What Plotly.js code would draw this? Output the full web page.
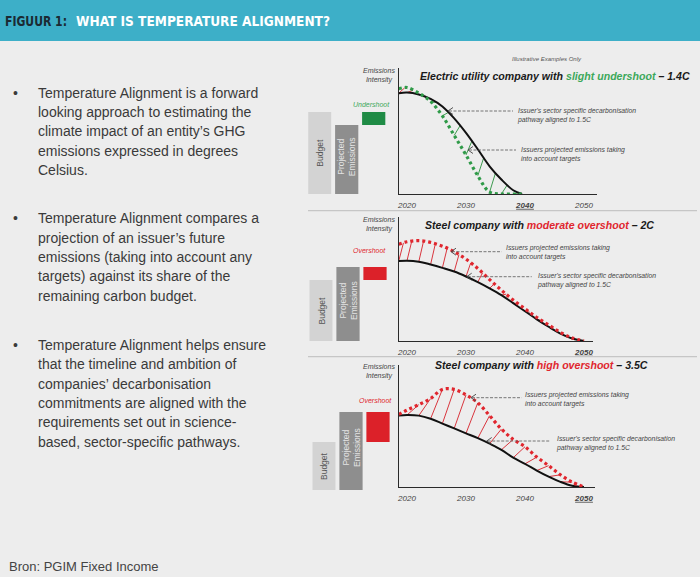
<!DOCTYPE html>
<html><head><meta charset="utf-8">
<script src="https://cdn.plot.ly/plotly-3.0.1.min.js"></script>
<style>html,body{margin:0;padding:0;background:#EDEDED}</style>
</head><body><div id="chart" style="width:700px;height:577px"></div>
<script>
// ---------------- DATA ----------------
const tickYears = [2020, 2030, 2040, 2050];
const tickText1 = ['2020', '2030', '<b><u>2040</u></b>', '2050'];
const tickText23 = ['2020', '2030', '2040', '<b><u>2050</u></b>'];

// Panel 1: Electric utility (slight undershoot)
const years1 = [2018.6, 2020, 2022, 2024, 2026, 2028, 2030, 2032, 2034, 2036, 2038, 2039.5];
const pathway1 = [0.80, 0.805, 0.79, 0.755, 0.695, 0.60, 0.485, 0.355, 0.22, 0.115, 0.03, 0];
const projected1 = [0.835, 0.845, 0.80, 0.735, 0.62, 0.465, 0.31, 0.145, 0.015, 0, 0, 0];

// Panel 2: Steel (moderate overshoot)
const years2 = [2018.6, 2020, 2022, 2024, 2026, 2028, 2030, 2032, 2034, 2036, 2038, 2040, 2042, 2044, 2046, 2048, 2050];
const pathway2 = [0.645, 0.648, 0.64, 0.617, 0.59, 0.56, 0.52, 0.475, 0.425, 0.37, 0.305, 0.24, 0.175, 0.115, 0.06, 0.02, 0];
const projected2 = [0.78, 0.80, 0.81, 0.795, 0.765, 0.72, 0.66, 0.585, 0.495, 0.41, 0.33, 0.26, 0.19, 0.13, 0.07, 0.025, 0];

// Panel 3: Steel (high overshoot)
const years3 = [2018.6, 2020, 2022, 2024, 2026, 2028, 2030, 2032, 2034, 2036, 2038, 2040, 2042, 2044, 2046, 2048, 2050];
const pathway3 = [0.585, 0.59, 0.585, 0.56, 0.52, 0.48, 0.44, 0.40, 0.355, 0.305, 0.24, 0.19, 0.135, 0.085, 0.042, 0.01, 0];
const projected3 = [0.595, 0.63, 0.675, 0.725, 0.80, 0.80, 0.755, 0.69, 0.585, 0.475, 0.39, 0.33, 0.245, 0.175, 0.10, 0.04, 0];

// Budget vs projected emissions bars
const barBudget = [82, 61, 48];
const barProjected = [69, 74, 78];
const barLabels = ['Budget', 'Projected<br>Emissions'];

const titles = [
  ['Electric utility company with ', 'slight undershoot', ' – 1.4C'],
  ['Steel company with ', 'moderate overshoot', ' – 2C'],
  ['Steel company with ', 'high overshoot', ' – 3.5C']
];
const gapLabels = ['Undershoot', 'Overshoot', 'Overshoot'];
const pathwayText = "Issuer's sector specific decarbonisation<br>pathway aligned to 1.5C";
const projectedText = 'Issuers projected emissions taking<br>into account targets';

const bulletParagraphs = [
  ['Temperature Alignment is a forward', 'looking approach to estimating the', 'climate impact of an entity’s GHG', 'emissions expressed in degrees', 'Celsius.'],
  ['Temperature Alignment compares a', 'projection of an issuer’s future', 'emissions (taking into account any', 'targets) against its share of the', 'remaining carbon budget.'],
  ['Temperature Alignment helps ensure', 'that the timeline and ambition of', 'companies’ decarbonisation', 'commitments are aligned with the', 'requirements set out in science-', 'based, sector-specific pathways.']
];
const headerDark = 'FIGUUR 1:';
const headerLight = 'WHAT IS TEMPERATURE ALIGNMENT?';
const sourceText = 'Bron: PGIM Fixed Income';
const noteText = 'Illustrative Examples Only';

// ---------------- LAYOUT HELPERS ----------------
const W = 700, H = 577;
const X = p => p / W, Y = p => 1 - p / H;
const FONT = "'Liberation Sans', Arial, sans-serif";
const GREEN = '#2F9A48', RED = '#E0262E', GREEN_T = '#3CA85A';

const panels = [
  {years: years1, path: pathway1, proj: projected1, ticks: tickText1,
   ax: {l: 399, r: 597, t: 68, b: 194}, barBottom: 194, barC0: 319.7,
   titleX: 555, titleY: 75.7, eiY: 75.2, projColor: GREEN, delta: 1.0,
   gapShift: [-2, 2],
   arrows: [
     {tip: [448, 111], tail: 513, textX: 515, y1: 111, y2: 119.3, text: pathwayText},
     {tip: [468, 150], tail: 516, textX: 518.5, y1: 150, y2: 158.3, text: projectedText}
   ]},
  {years: years2, path: pathway2, proj: projected2, ticks: tickText23,
   ax: {l: 399, r: 593, t: 217, b: 341}, barBottom: 341, barC0: 321,
   titleX: 539, titleY: 225, eiY: 224.9, projColor: RED, delta: 0.8,
   gapShift: [-6, 11],
   arrows: [
     {tip: [451, 251.7], tail: 501.7, textX: 503.5, y1: 248.3, y2: 256.7, text: projectedText},
     {tip: [466.7, 276.7], tail: 531.7, textX: 534.5, y1: 275.7, y2: 284.3, text: pathwayText}
   ]},
  {years: years3, path: pathway3, proj: projected3, ticks: tickText23,
   ax: {l: 399, r: 595, t: 365, b: 487}, barBottom: 490, barC0: 324,
   titleX: 541, titleY: 365, eiY: 371.2, projColor: RED, delta: 2.0,
   gapShift: [-3, 6],
   arrows: [
     {tip: [471, 397.7], tail: 521.7, textX: 523, y1: 395, y2: 403.3, text: projectedText},
     {tip: [486.7, 441], tail: 550, textX: 554, y1: 439, y2: 447.3, text: pathwayText}
   ]}
];

function interp(xs, ys, x) {
  if (x <= xs[0]) return ys[0];
  for (let i = 1; i < xs.length; i++) {
    if (x <= xs[i]) {
      const f = (x - xs[i-1]) / (xs[i] - xs[i-1]);
      return ys[i-1] + f * (ys[i] - ys[i-1]);
    }
  }
  return ys[ys.length - 1];
}

const data = [];
const layout = {
  width: W, height: H, margin: {l: 0, r: 0, t: 0, b: 0},
  paper_bgcolor: '#EDEDED', plot_bgcolor: 'rgba(0,0,0,0)',
  showlegend: false, font: {family: FONT, color: '#444'},
  annotations: [], shapes: []
};
const A = layout.annotations, S = layout.shapes;

// header
const HFONT = "'Liberation Sans Narrow', 'DejaVu Sans Condensed', 'Liberation Sans', sans-serif";
S.push({type: 'rect', xref: 'paper', yref: 'paper', x0: 0, x1: 1, y0: Y(41), y1: 1,
        fillcolor: '#3DAFC8', line: {width: 0}, layer: 'below'});
A.push({xref: 'paper', yref: 'paper', x: X(3), y: Y(21), xanchor: 'left', yanchor: 'middle', align: 'left', showarrow: false,
        text: headerDark, font: {family: HFONT, size: 14.5, color: '#1B2A33', weight: 700}});
A.push({xref: 'paper', yref: 'paper', x: X(74), y: Y(21), xanchor: 'left', yanchor: 'middle', align: 'left', showarrow: false,
        text: headerLight, font: {family: HFONT, size: 14.5, color: '#FFFFFF', weight: 700}});
const headerWidths = {};
headerWidths[headerDark] = 62;
headerWidths[headerLight] = 254;

// left bullets
const paraStart = [92.7, 218.3, 345];
bulletParagraphs.forEach((lines, pi) => {
  A.push({xref: 'paper', yref: 'paper', x: X(15), y: Y(paraStart[pi]), xanchor: 'center', yanchor: 'middle',
          showarrow: false, text: '•', font: {size: 14, color: '#3a3a3a'}});
  lines.forEach((ln, li) => {
    A.push({xref: 'paper', yref: 'paper', x: X(36), y: Y(paraStart[pi] + li * 19.35), xanchor: 'left', yanchor: 'middle',
            showarrow: false, text: ln, font: {size: 14, color: '#3a3a3a'}});
  });
});

// source
A.push({xref: 'paper', yref: 'paper', x: X(7), y: Y(566.7), xanchor: 'left', yanchor: 'middle', showarrow: false,
        text: sourceText, font: {size: 13, color: '#444'}});
// note
A.push({xref: 'paper', yref: 'paper', x: X(546.7), y: Y(59.3), xanchor: 'center', yanchor: 'middle', showarrow: false,
        text: '<i>' + noteText + '</i>', font: {size: 6, color: '#555'}});

// separators
[210.7, 356.7].forEach(py => S.push({type: 'line', xref: 'paper', yref: 'paper', x0: X(308), x1: X(697), y0: Y(py), y1: Y(py),
        line: {color: '#C6C6C6', width: 1.2}}));

panels.forEach((p, i) => {
  const n = i + 1;
  const xa = n === 1 ? 'x' : 'x' + n, ya = n === 1 ? 'y' : 'y' + n;
  const xk = n === 1 ? 'xaxis' : 'xaxis' + n, yk = n === 1 ? 'yaxis' : 'yaxis' + n;
  const x0yr = 2020 - (407 - p.ax.l) / 5.9, x1yr = 2020 + (p.ax.r - 407) / 5.9;
  layout[xk] = {domain: [X(p.ax.l), X(p.ax.r)], range: [x0yr, x1yr], anchor: ya,
    showline: true, linecolor: '#2a2a2a', linewidth: 1.2, showgrid: false, zeroline: false,
    ticks: '', tickvals: tickYears, ticktext: p.ticks.map(t => '<i>' + t + '</i>'),
    tickfont: {size: 8, color: '#444'}, ticklabelstandoff: 3, fixedrange: true};
  layout[yk] = {domain: [Y(p.ax.b), Y(p.ax.t)], range: [0, 1], anchor: xa,
    showline: true, linecolor: '#2a2a2a', linewidth: 1.2, showgrid: false, zeroline: false,
    showticklabels: false, ticks: '', fixedrange: true};

  // hatch lines
  const hr = {x: [], y: []}, hg = {x: [], y: []};
  for (let k = 0; k < p.years.length - 1; k++) {
    const t = p.years[k], b = p.path[k], q = p.proj[k];
    const t2 = t + p.delta;
    if (q > b + 0.012) {
      hr.x.push(t, t2, null); hr.y.push(b, interp(p.years, p.proj, t2), null);
    } else if (b > q + 0.012) {
      hg.x.push(t, t2, null); hg.y.push(q, interp(p.years, p.path, t2), null);
    }
  }
  [[hr, '#D9363E'], [hg, '#3E9B50']].forEach(([h, c]) => {
    if (h.x.length) data.push({type: 'scatter', mode: 'lines', x: h.x, y: h.y, xaxis: xa, yaxis: ya,
      line: {color: c, width: 1}, hoverinfo: 'skip', connectgaps: false});
  });
  // pathway (solid black)
  data.push({type: 'scatter', mode: 'lines', x: p.years, y: p.path, xaxis: xa, yaxis: ya,
    line: {color: '#111', width: 2, shape: 'spline', smoothing: 1}, hoverinfo: 'skip'});
  // projected (dotted)
  data.push({type: 'scatter', mode: 'lines', x: p.years, y: p.proj, xaxis: xa, yaxis: ya,
    line: {color: p.projColor, width: 3.2, dash: '3px,3px', shape: 'spline', smoothing: 1}, hoverinfo: 'skip'});

  // bars
  const bx = 'x' + (n + 3), by = 'y' + (n + 3);
  const budget = barBudget[i], proj = barProjected[i];
  const gap = proj - budget;
  const gapColor = gap < 0 ? '#1F8B45' : '#DC2129';
  layout['xaxis' + (n + 3)] = {domain: [X(p.barC0 - 13.5), X(p.barC0 - 13.5 + 81)], range: [-0.5, 2.5], anchor: by,
    visible: false, fixedrange: true};
  layout['yaxis' + (n + 3)] = {domain: [Y(p.barBottom), Y(p.barBottom - 100)], range: [0, 100], anchor: bx,
    visible: false, fixedrange: true};
  data.push({type: 'bar', x: [0, 1, 2], y: [budget, proj, Math.abs(gap)], base: [0, 0, Math.min(budget, proj)],
    width: [0.85, 0.86, 0.86], xaxis: bx, yaxis: by,
    marker: {color: ['#D3D3D3', '#8E8E8E', gapColor], line: {width: 0}}, hoverinfo: 'skip'});
  A.push({xref: bx, yref: by, x: 0, y: budget / 2, text: barLabels[0], textangle: -90, showarrow: false,
    font: {size: 8.5, color: '#555'}});
  A.push({xref: bx, yref: by, x: 1, y: proj / 2 + 3, text: barLabels[1], textangle: -90, showarrow: false,
    font: {size: 8.5, color: '#E4E4E4'}});
  A.push({xref: bx, yref: by, x: 2, y: Math.max(budget, proj), yanchor: 'bottom', xshift: p.gapShift[0], yshift: p.gapShift[1],
    text: '<i>' + gapLabels[i] + '</i>', showarrow: false, font: {size: 7, color: gap < 0 ? GREEN_T : RED}});

  // title
  const tc = gap < 0 ? GREEN_T : RED;
  A.push({xref: 'paper', yref: 'paper', x: X(p.titleX), y: Y(p.titleY), xanchor: 'center', yanchor: 'middle', showarrow: false,
    text: '<b><i>' + titles[i][0] + "<span style='color:" + tc + "'>" + titles[i][1] + '</span>' + titles[i][2] + '</i></b>',
    font: {size: 10.6, color: '#1a1a1a'}});
  // y label
  A.push({xref: 'paper', yref: 'paper', x: X(396.5), y: Y(p.eiY), xanchor: 'right', yanchor: 'middle', showarrow: false,
    text: '<i>Emissions<br>Intensity</i>', font: {size: 7, color: '#444'}});

  // arrows
  p.arrows.forEach(a => {
    const [tx, ty] = a.tip;
    S.push({type: 'line', xref: 'paper', yref: 'paper', x0: X(tx + 1), x1: X(a.tail), y0: Y(ty), y1: Y(ty),
      line: {color: '#555', width: 0.8, dash: '3px,1.5px'}});
    S.push({type: 'path', xref: 'paper', yref: 'paper',
      path: `M${X(tx + 5)},${Y(ty - 3.5)} L${X(tx)},${Y(ty)} L${X(tx + 5)},${Y(ty + 3.5)}`,
      line: {color: '#444', width: 0.9}});
    A.push({xref: 'paper', yref: 'paper', x: X(a.textX), y: Y((a.y1 + a.y2) / 2), xanchor: 'left', yanchor: 'middle',
      align: 'left', showarrow: false, text: '<i>' + a.text + '</i>', font: {size: 6.8, color: '#444'}});
  });
});

Plotly.newPlot('chart', data, layout, {displayModeBar: false, staticPlot: true}).then(gd => {
  // condense the header texts to the width of the original's condensed typeface
  Array.from(gd.querySelectorAll('text.annotation-text')).forEach(t => {
    const target = headerWidths[t.textContent];
    if (target && t.getComputedTextLength() > target) {
      t.setAttribute('textLength', target);
      t.setAttribute('lengthAdjust', 'spacingAndGlyphs');
    }
  });
});
</script></body></html>
